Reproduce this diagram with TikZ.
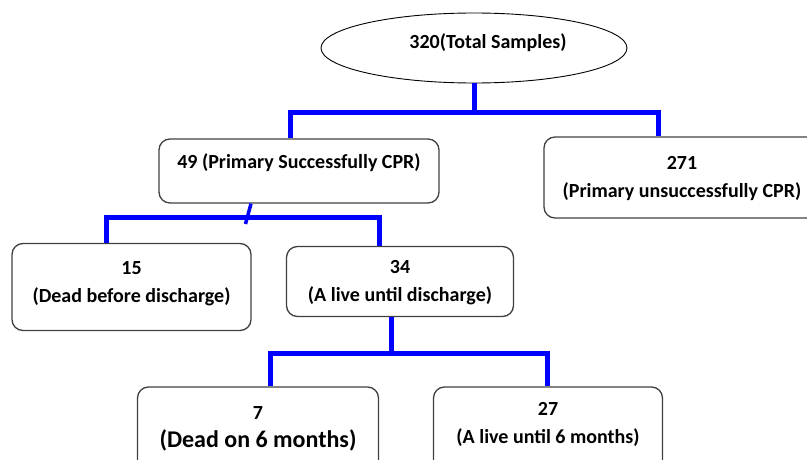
\documentclass[tikz,border=0pt]{standalone}
\usepackage{fontspec}
\setmainfont{Carlito}
\usetikzlibrary{shapes, positioning}

\newcommand{\boxtext}[2][0pt]{\raisebox{#1}[\height][\depth]{\begin{tabular}{@{}c@{}}#2\end{tabular}}}

\tikzset{
	casebox/.style={draw=black!75, line width=1.3pt, rounded corners=11pt, inner sep=0pt, align=center, font=\bfseries\fontsize{20}{28}\selectfont},
	rootbox/.style={ellipse, draw=black, line width=0.9pt, inner sep=0pt, font=\bfseries\fontsize{20}{28}\selectfont},
	branch/.style={draw=blue, line width=5pt},
}

\begin{document}
\begin{tikzpicture}[x=1pt, y=-1pt]
	\useasboundingbox (0,0) rectangle (807,460);
	\clip (0,0) rectangle (807,460);

	\node[rootbox, minimum width=306pt, minimum height=70pt] (total) at (474,48) {\hspace*{28pt}\boxtext[5pt]{320(Total Samples)}};

	\node[casebox, minimum width=280pt, minimum height=64pt] (ok49) at (299,171) {\boxtext[8pt]{49 (Primary Successfully CPR)}};
	\node[casebox, minimum width=276pt, minimum height=81pt] (fail271) at (682,177.5) {\boxtext{271\\(Primary unsuccessfully CPR)}};

	\node[casebox, minimum width=239pt, minimum height=87pt] (dead15) at (131.5,287) {\boxtext[4pt]{15\\(Dead before discharge)}};
	\node[casebox, minimum width=227pt, minimum height=70pt] (live34) at (400,281.5) {\boxtext{34\\(A live until discharge)}};

	\node[casebox, minimum width=241pt, minimum height=100pt] (dead7) at (258,437) {\boxtext[9pt]{7\\{\fontsize{24}{28}\selectfont(Dead on 6 months)}}};
	\node[casebox, minimum width=229pt, minimum height=100pt] (live27) at (548,437) {\boxtext[13pt]{27\\(A live until 6 months)}};

	% first split
	\coordinate (top) at (474,113);
	\draw[branch] (total.south) -- (top);
	\draw[branch] ([xshift=-9pt]ok49.north) |- (top) -| ([xshift=-24pt]fail271.north);

	% second split
	\coordinate (mid) at (247,217);
	\coordinate (slant) at (245.5,224);
	\draw[branch, line width=3.5pt] ([xshift=-48pt]ok49.south) -- (slant);
	\draw[branch] ([xshift=-25.5pt]dead15.north) |- (mid) -| ([xshift=-21pt]live34.north);

	% third split
	\coordinate (low) at (391,353);
	\draw[branch] ([xshift=-9pt]live34.south) -- (low);
	\draw[branch] ([xshift=12pt]dead7.north) |- (low) -| ([xshift=-1pt]live27.north);
\end{tikzpicture}
\end{document}
